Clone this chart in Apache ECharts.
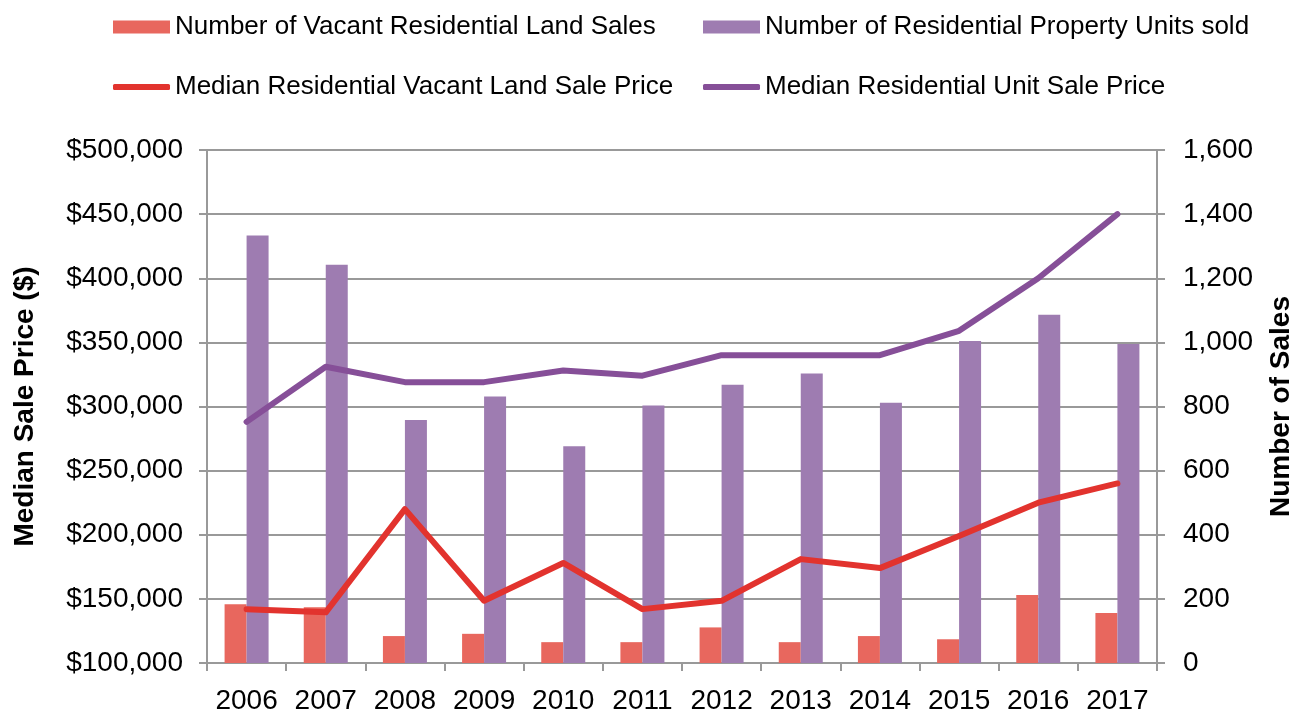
<!DOCTYPE html>
<html>
<head>
<meta charset="utf-8">
<script src="https://cdn.jsdelivr.net/npm/echarts@6/dist/echarts.min.js"></script>
<style>
html,body{margin:0;padding:0;background:#fff;}
#chart{width:1300px;height:713px;}
</style>
</head>
<body>
<div id="chart"></div>
<script>
var years = ['2006','2007','2008','2009','2010','2011','2012','2013','2014','2015','2016','2017'];
var vacantLandSales = [183, 174, 84, 91, 65, 65, 111, 65, 84, 74, 212, 156];
var unitsSold = [1333, 1242, 758, 831, 676, 803, 868, 903, 812, 1004, 1086, 995];
var landPrice = [142000, 139500, 220000, 148500, 178000, 142000, 148500, 181000, 174000, 199000, 225000, 240000];
var unitPrice = [288000, 331000, 319000, 319000, 328000, 324000, 340000, 340000, 340000, 359000, 400000, 450000];

var names = ['Number of Vacant Residential Land Sales','Number of Residential Property Units sold','Median Residential Vacant Land Sale Price','Median Residential Unit Sale Price'];
var colors = ['#E8675E','#9E7CB1','#E2332E','#864F98'];
var FONT = '"Liberation Sans", Arial, sans-serif';

function fmt(v){ return v.toString().replace(/\B(?=(\d{3})+(?!\d))/g, ','); }

function mkLegend(i, left, top, icon, h){
  return {
    left: left, top: top, orient: 'horizontal', padding: 0,
    itemWidth: 57, itemHeight: h, itemGap: 0,
    icon: icon,
    textStyle: {fontFamily: FONT, fontSize: 26, color: '#000'},
    data: [{name: names[i], icon: icon, itemStyle: {color: colors[i], opacity: 1}}],
    selectedMode: false
  };
}

var chart = echarts.init(document.getElementById('chart'), null, {renderer: 'canvas'});
chart.setOption({
  animation: false,
  backgroundColor: '#fff',
  legend: [
    mkLegend(0, 113, 14, 'rect', 13),
    mkLegend(1, 703, 14, 'rect', 13),
    mkLegend(2, 113, 74, 'roundRect', 6),
    mkLegend(3, 703, 74, 'roundRect', 6)
  ],
  grid: {left: 207, right: 143, top: 150, bottom: 50, containLabel: false, outerBoundsMode: 'none'},
  xAxis: {
    type: 'category', data: years,
    axisLine: {lineStyle: {color: '#999', width: 2}},
    axisTick: {show: true, alignWithLabel: false, interval: 0, length: 8, lineStyle: {color: '#999', width: 2}},
    axisLabel: {fontFamily: FONT, fontSize: 28, color: '#000', margin: 24, interval: 0, hideOverlap: false}
  },
  yAxis: [
    {
      type: 'value', min: 100000, max: 500000, interval: 50000, position: 'left',
      name: 'Median Sale Price ($)', nameLocation: 'middle', nameRotate: 90, nameGap: 168,
      nameTextStyle: {fontFamily: FONT, fontSize: 28, fontWeight: 'bold', color: '#000'},
      axisLine: {show: true, lineStyle: {color: '#999', width: 2}},
      axisTick: {show: true, length: 8, lineStyle: {color: '#999', width: 2}},
      splitLine: {show: true, lineStyle: {color: '#999', width: 2}},
      axisLabel: {fontFamily: FONT, fontSize: 28, color: '#000', margin: 24, formatter: function(v){ return '$' + fmt(v); }}
    },
    {
      type: 'value', min: 0, max: 1600, interval: 200, position: 'right',
      name: 'Number of Sales', nameLocation: 'middle', nameRotate: 90, nameGap: 110,
      nameTextStyle: {fontFamily: FONT, fontSize: 28, fontWeight: 'bold', color: '#000'},
      axisLine: {show: true, lineStyle: {color: '#999', width: 2}},
      axisTick: {show: true, length: 8, lineStyle: {color: '#999', width: 2}},
      splitLine: {show: false},
      axisLabel: {fontFamily: FONT, fontSize: 28, color: '#000', margin: 26, formatter: function(v){ return fmt(v); }}
    }
  ],
  series: [
    {name: names[0], type: 'bar', yAxisIndex: 1, data: vacantLandSales, barWidth: 22, barGap: '0%', itemStyle: {color: colors[0]}},
    {name: names[1], type: 'bar', yAxisIndex: 1, data: unitsSold, barWidth: 22, barGap: '0%', itemStyle: {color: colors[1]}},
    {name: names[2], type: 'line', yAxisIndex: 0, data: landPrice, symbol: 'none', z: 5, lineStyle: {color: colors[2], width: 6, cap: 'round', join: 'round'}, itemStyle: {color: colors[2]}},
    {name: names[3], type: 'line', yAxisIndex: 0, data: unitPrice, symbol: 'none', z: 5, lineStyle: {color: colors[3], width: 6, cap: 'round', join: 'round'}, itemStyle: {color: colors[3]}}
  ]
});
</script>
</body>
</html>
